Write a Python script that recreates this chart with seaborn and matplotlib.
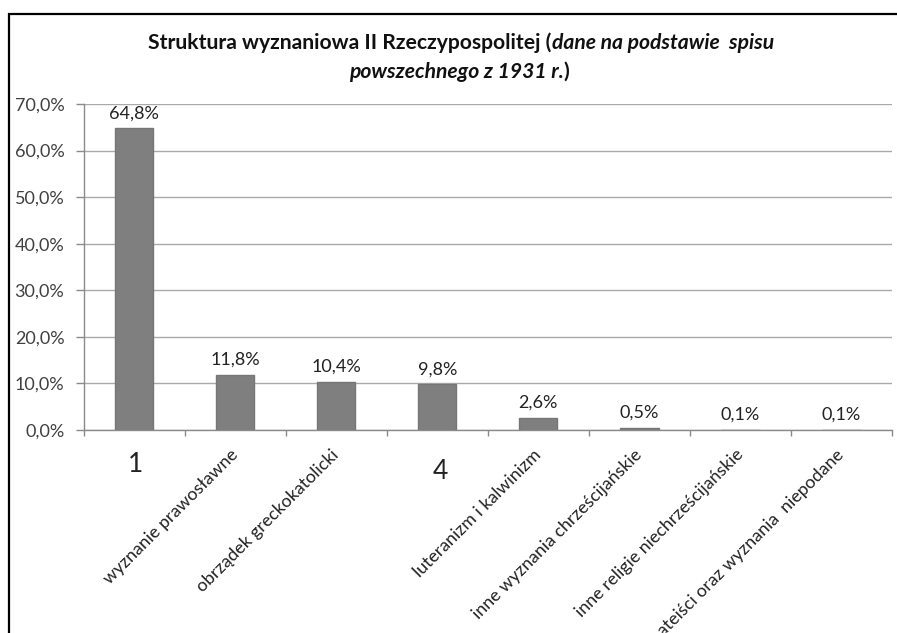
import matplotlib
matplotlib.use("Agg")
import matplotlib.pyplot as plt
import seaborn as sns
import pandas as pd
from matplotlib.patches import Rectangle
from matplotlib.transforms import ScaledTranslation

# ---- data ----
categories = [
    "1",
    "wyznanie prawosławne",
    "obrządek greckokatolicki",
    "4",
    "luteranizm i kalwinizm",
    "inne wyznania chrześcijańskie",
    "inne religie niechrześcijańskie",
    "ateiści oraz wyznania  niepodane",
]
values = [64.8, 11.8, 10.4, 9.8, 2.6, 0.5, 0.1, 0.1]
value_labels = ["64,8%", "11,8%", "10,4%", "9,8%", "2,6%", "0,5%", "0,1%", "0,1%"]
y_ticks = [0, 10, 20, 30, 40, 50, 60, 70]
y_tick_labels = ["0,0%", "10,0%", "20,0%", "30,0%", "40,0%", "50,0%", "60,0%", "70,0%"]
title_line1 = [("Struktura wyznaniowa II Rzeczypospolitej (", "normal"),
               ("dane na podstawie  spisu", "italic")]
title_line2 = [("powszechnego z 1931 r.", "italic"), (")", "normal")]

df = pd.DataFrame({"kategoria": categories, "udzial": values})

FONT = "Lato"
plt.rcParams["font.family"] = [FONT, "DejaVu Sans"]
W, H = 897, 633
fig = plt.figure(figsize=(W / 100, H / 100), dpi=100)
fig.patch.set_facecolor("white")

x0, x1, yb, yt = 83.5, 892.0, 430.0, 104.0
ax = fig.add_axes([x0 / W, 1 - yb / H, (x1 - x0) / W, (yb - yt) / H])
sns.barplot(data=df, x="kategoria", y="udzial", color="#7f7f7f", saturation=1,
            width=0.38, edgecolor="#767676", linewidth=1.0, ax=ax, zorder=3)

ax.set_xlim(-0.5, 7.5)
ax.set_ylim(0, 70)
ax.set_xlabel("")
ax.set_ylabel("")
ax.set_facecolor("white")

grid_c = "#a9a9a9"
for s in ["top", "right"]:
    ax.spines[s].set_visible(False)
for s in ["left", "bottom"]:
    ax.spines[s].set_color("#8a8a8a")
    ax.spines[s].set_linewidth(1.0)
    ax.spines[s].set_zorder(4)

ax.set_yticks(y_ticks)
ax.set_yticklabels(y_tick_labels, fontsize=13, color="#404040")
ax.tick_params(axis="y", direction="out", length=5.8, width=1, color="#8a8a8a", pad=8)
ax.yaxis.grid(True, color=grid_c, linewidth=1.0, zorder=0)
ax.set_axisbelow(True)

# category boundary ticks
ax.set_xticks([i - 0.5 for i in range(len(categories) + 1)], minor=True)
ax.tick_params(axis="x", which="minor", direction="out", length=4, width=1, color="#8a8a8a")
ax.set_xticks(range(len(categories)))
ax.set_xticklabels(categories, rotation=45, ha="right", va="center",
                   rotation_mode="anchor", fontsize=12.8, color="#222222")
ax.tick_params(axis="x", which="major", length=0, pad=16)

for i, lab in enumerate(ax.get_xticklabels()):
    if lab.get_text() in ("1", "4"):
        lab.set_rotation(0)
        lab.set_ha("center")
        lab.set_va("center")
        lab.set_fontsize(19)
        dx, dy = (0.01, -0.12) if lab.get_text() == "1" else (0.03, -0.19)
        lab.set_transform(lab.get_transform() + ScaledTranslation(dx, dy, fig.dpi_scale_trans))

ax.bar_label(ax.containers[0], labels=value_labels, padding=5, fontsize=13, color="#222222")

# title with mixed styles
fig.canvas.draw()
renderer = fig.canvas.get_renderer()


def place_line(pieces, cx, baseline_px, size):
    texts = []
    widths = []
    for txt, style in pieces:
        t = fig.text(0, 0, txt, fontsize=size, fontweight="bold", fontstyle=style,
                     va="baseline", ha="left", color="#111111")
        bb = t.get_window_extent(renderer)
        texts.append(t)
        widths.append(bb.width)
    total = sum(widths)
    x = cx - total / 2
    for t, w in zip(texts, widths):
        t.set_position((x / W, 1 - baseline_px / H))
        x += w


place_line(title_line1, 461, 49, 15.2)
place_line(title_line2, 459, 78, 15.2)

# black frame (cropped at right/bottom)
fig.patches.append(Rectangle((9 / W, -0.1), 1.2, 1 - 14 / H + 0.1, transform=fig.transFigure,
                             fill=False, edgecolor="black", linewidth=1.6, zorder=10))

fig.savefig("out.png", dpi=100)
